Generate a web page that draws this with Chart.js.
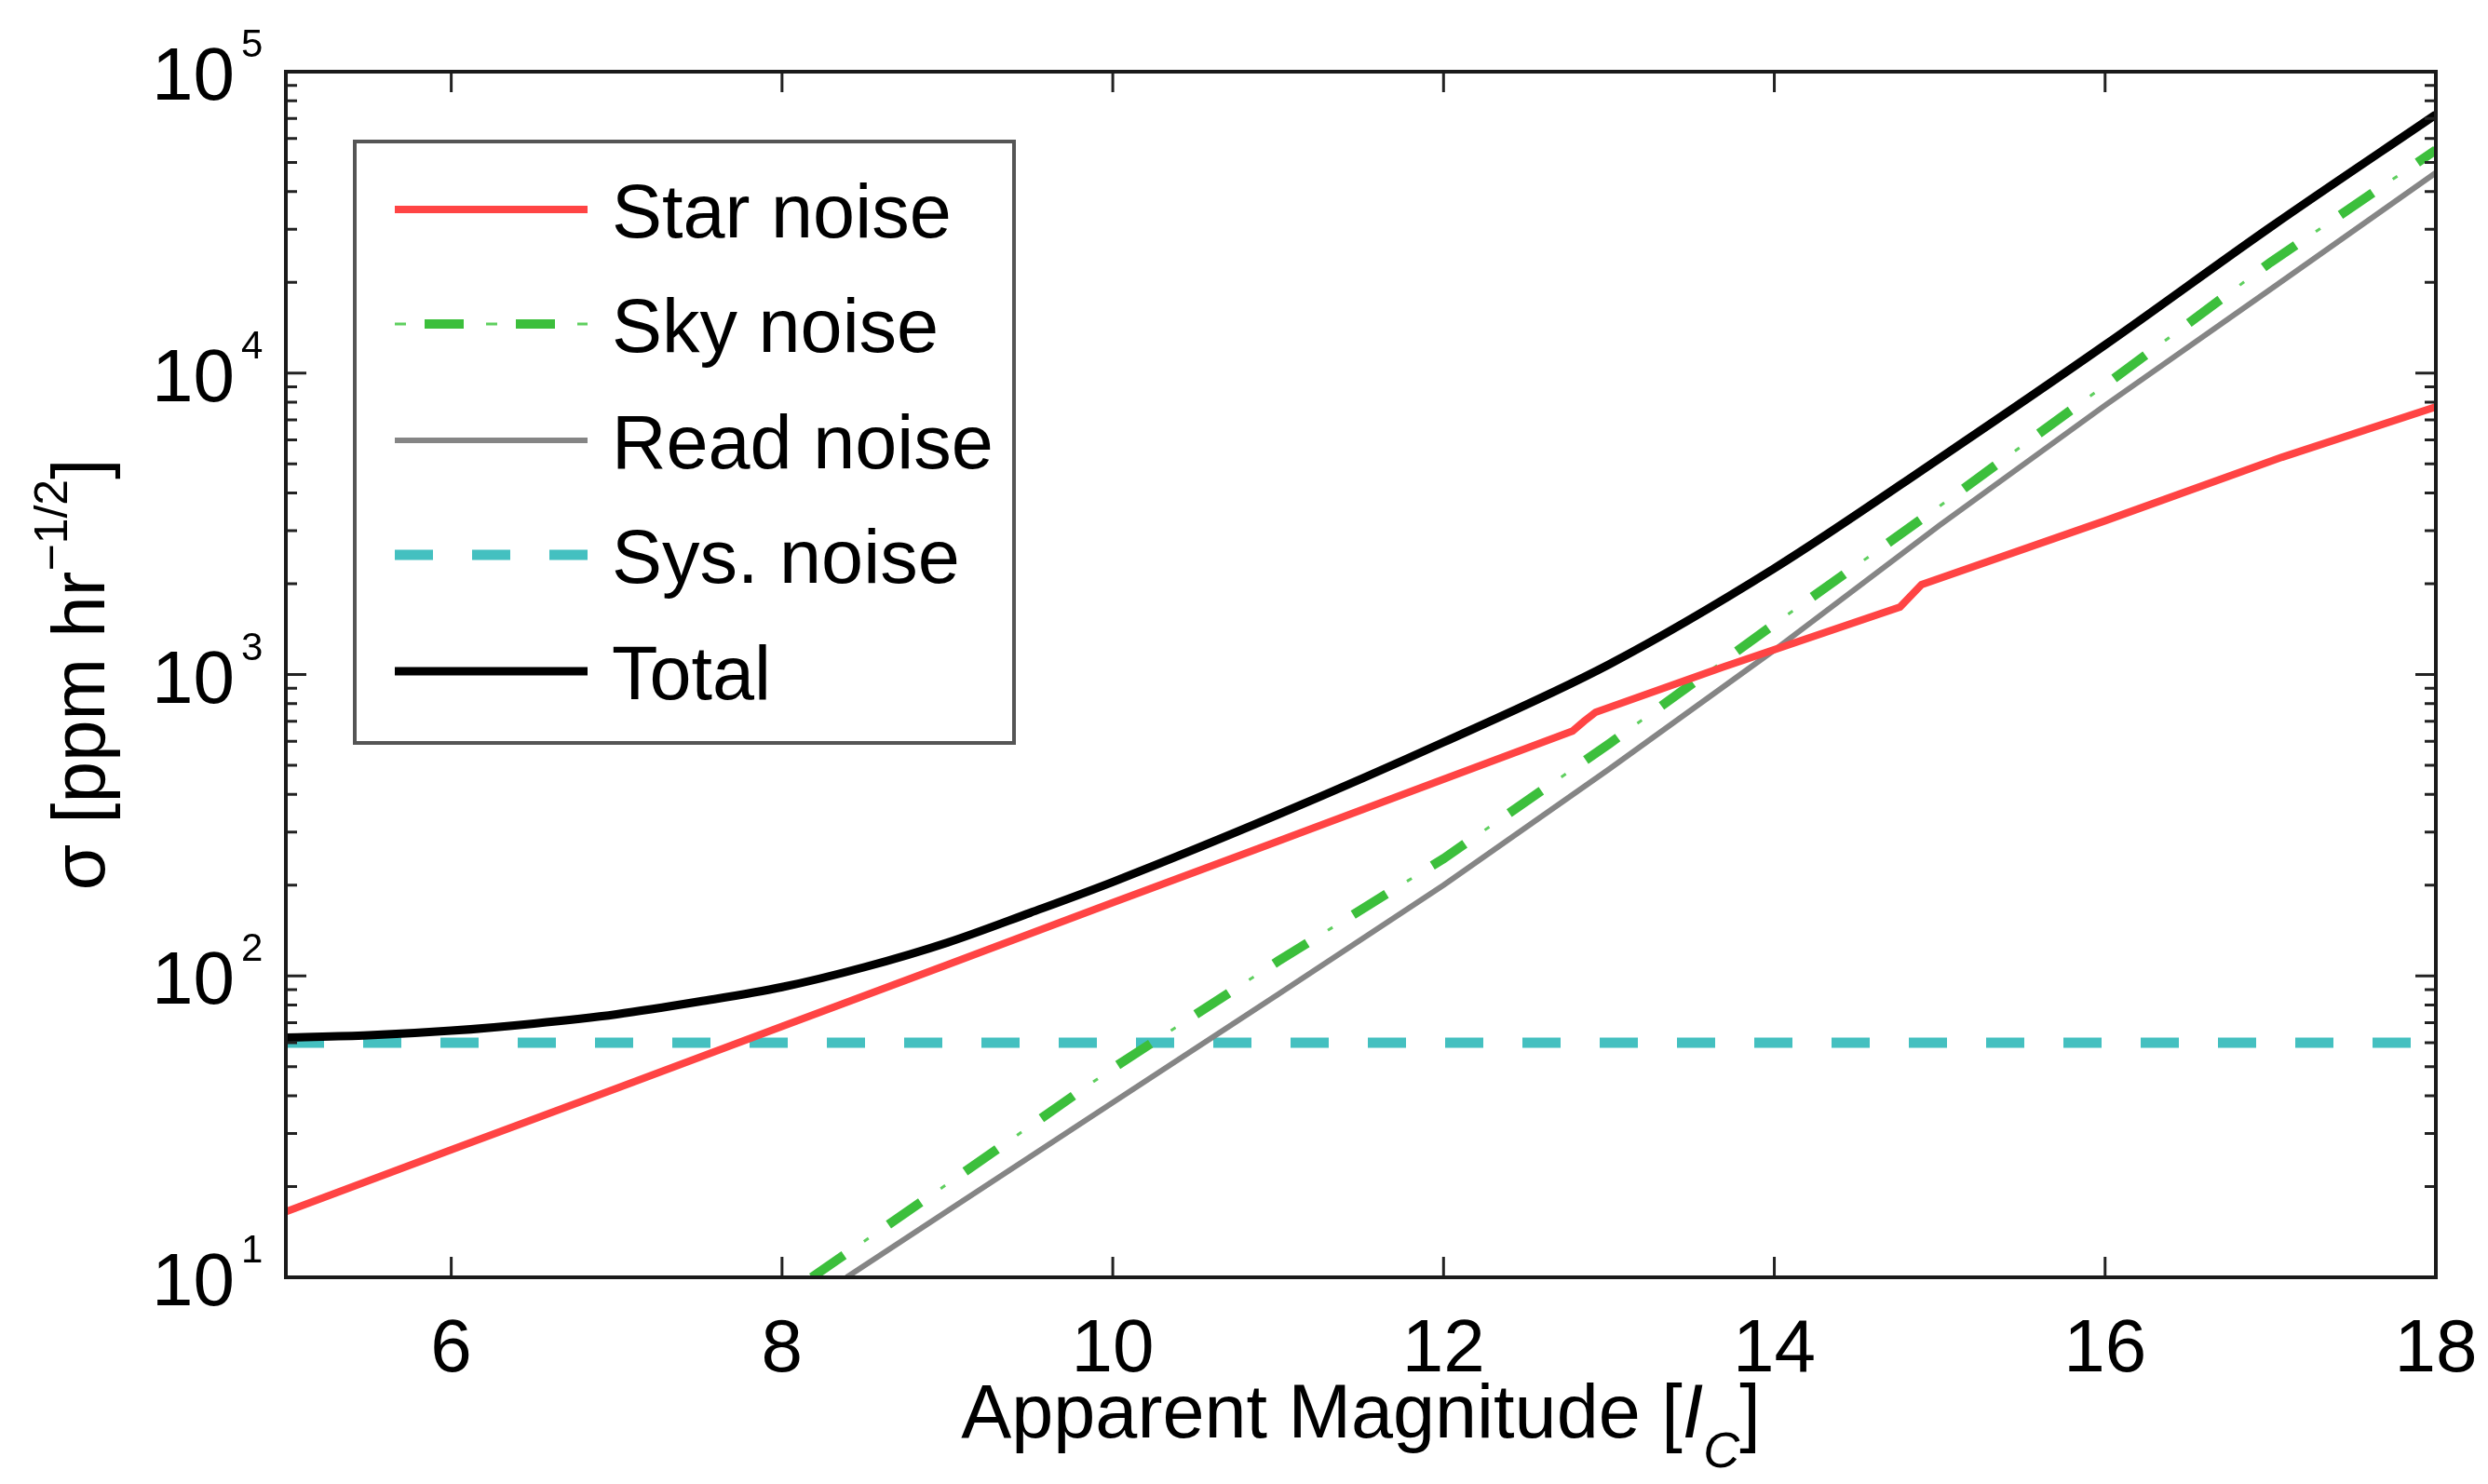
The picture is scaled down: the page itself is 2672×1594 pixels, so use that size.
<!DOCTYPE html>
<html>
<head>
<meta charset="utf-8">
<title>Noise budget vs. apparent magnitude</title>
<script src="https://cdn.jsdelivr.net/npm/chart.js@4.4.1/dist/chart.umd.min.js"></script>
<style>
  html, body { margin: 0; padding: 0; background: #fff; }
  #wrap { width: 2672px; height: 1594px; }
</style>
</head>
<body>
<div id="wrap"><canvas id="noiseChart"></canvas></div>
<script>
const FONT = "'Liberation Sans', Arial, Helvetica, sans-serif";

// sigma in ppm hr^-1/2 against I_C magnitude, one pair of arrays per noise term
const starMag   = [5, 6, 7, 8, 9, 10, 11, 12, 12.78, 12.85, 12.92, 13.69, 14.76, 14.89, 16, 17.07, 18];
const starNoise = [16.5, 26.5, 42.4, 68, 109, 175, 280, 449, 649, 700, 750, 1059, 1675, 1986, 3236, 5260, 7730];

const skyMag   = [8.18, 9, 10, 11, 12, 13, 14, 15, 16, 17, 18];
const skyNoise = [10, 20.4, 49.4, 112, 245, 588, 1470, 3620, 9120, 23300, 55000];

const readMag   = [8.39, 9, 10, 11, 12, 13, 14, 15, 16, 17, 18];
const readNoise = [10, 16.6, 38, 86.9, 200, 485, 1205, 3130, 7820, 18970, 46200];

const sysMag   = [5, 18];
const sysNoise = [60, 60];

const totalMag   = [5, 5.5, 6, 6.5, 7, 7.5, 8, 8.5, 9, 9.5, 10, 11, 12, 13, 14, 15, 16, 17, 18];
const totalNoise = [62.4, 63.5, 65.8, 69.5, 74.6, 82.2, 91.8, 107, 129, 162, 205, 343, 596, 1080, 2250, 5220, 12400, 30500, 72100];

const xTicks = [6, 8, 10, 12, 14, 16, 18];
const yTicks = [10, 100, 1000, 10000, 100000];

function pts(xs, ys) {
    return xs.map((x, i) => ({ x: x, y: ys[i] }));
}

const lineBase = { pointRadius: 0, fill: false, tension: 0, clip: 0, borderCapStyle: 'butt' };

const datasets = [
    Object.assign({}, lineBase, { label: 'Star noise', data: pts(starMag, starNoise),
        borderColor: '#ff4444', borderWidth: 8, order: 1 }),
    Object.assign({}, lineBase, { label: 'Sky noise', data: pts(skyMag, skyNoise),
        borderColor: '#3cbf3c', borderWidth: 10, borderDash: [42, 58], order: 2 }),
    // thin dot of the dash-dot pattern, sits in the gaps of the line above
    Object.assign({}, lineBase, { label: 'Sky noise dots', data: pts(skyMag, skyNoise), noLegend: true,
        borderColor: '#5fcf5f', borderWidth: 3, borderDash: [6, 94], borderDashOffset: 32, order: 2 }),
    Object.assign({}, lineBase, { label: 'Read noise', data: pts(readMag, readNoise),
        borderColor: '#858585', borderWidth: 6, order: 3 }),
    Object.assign({}, lineBase, { label: 'Sys. noise', data: pts(sysMag, sysNoise),
        borderColor: '#44c0c0', borderWidth: 11, borderDash: [41, 42], order: 4 }),
    Object.assign({}, lineBase, { label: 'Total', data: pts(totalMag, totalNoise),
        borderColor: '#000000', borderWidth: 9, cubicInterpolationMode: 'monotone', order: 0 })
];

// axes box, inward ticks, labels with exponents and the boxed legend
const framePlugin = {
    id: 'frame',
    afterDraw(chart) {
        const { ctx, chartArea: a, scales } = chart;
        const x = scales.x, y = scales.y;
        ctx.save();

        ctx.strokeStyle = '#222';
        ctx.lineWidth = 3;
        ctx.beginPath();
        xTicks.forEach(v => {
            const px = x.getPixelForValue(v);
            ctx.moveTo(px, a.bottom); ctx.lineTo(px, a.bottom - 22);
            ctx.moveTo(px, a.top); ctx.lineTo(px, a.top + 22);
        });
        for (let d = 10; d < 100000; d *= 10) {
            for (let k = 1; k <= 9; k++) {
                const py = y.getPixelForValue(d * k);
                const len = k === 1 ? 22 : 12;
                ctx.moveTo(a.left, py); ctx.lineTo(a.left + len, py);
                ctx.moveTo(a.right, py); ctx.lineTo(a.right - len, py);
            }
        }
        ctx.stroke();

        ctx.lineWidth = 4;
        ctx.strokeStyle = '#1a1a1a';
        ctx.strokeRect(a.left, a.top, a.right - a.left, a.bottom - a.top);

        ctx.fillStyle = '#000';
        ctx.textBaseline = 'alphabetic';

        // x tick labels
        ctx.font = '80px ' + FONT;
        ctx.textAlign = 'center';
        xTicks.forEach(v => ctx.fillText(String(v), x.getPixelForValue(v), a.bottom + 101));

        // y tick labels 10^n
        yTicks.forEach(v => {
            const py = y.getPixelForValue(v);
            ctx.font = '80px ' + FONT;
            ctx.textAlign = 'right';
            ctx.fillText('10', 252, py + 30);
            ctx.font = '42px ' + FONT;
            ctx.textAlign = 'left';
            ctx.fillText(String(Math.round(Math.log10(v))), 259, py - 16);
        });

        // x title: Apparent Magnitude [I_C]
        const parts = [
            { t: 'Apparent Magnitude [', f: '81px ' + FONT, dy: 0 },
            { t: 'I', f: 'italic 81px ' + FONT, dy: 0 },
            { t: 'C', f: 'italic 54px ' + FONT, dy: 32 },
            { t: ']', f: '81px ' + FONT, dy: 0 }
        ];
        drawParts(ctx, parts, (a.left + a.right) / 2, 1544);

        // y title: sigma [ppm hr^-1/2], rotated
        ctx.save();
        ctx.translate(112, (a.top + a.bottom) / 2);
        ctx.rotate(-Math.PI / 2);
        drawParts(ctx, [
            { t: '\u03c3 [ppm hr', f: '80px ' + FONT, dy: 0 },
            { t: '\u22121/2', f: '50px ' + FONT, dy: -40 },
            { t: ']', f: '80px ' + FONT, dy: 0 }
        ], 0, 0);
        ctx.restore();

        drawLegend(ctx, chart);
        ctx.restore();
    }
};

function drawParts(ctx, parts, cx, baseY) {
    let total = 0;
    parts.forEach(p => { ctx.font = p.f; p.w = ctx.measureText(p.t).width; total += p.w; });
    let px = cx - total / 2;
    ctx.textAlign = 'left';
    parts.forEach(p => {
        ctx.font = p.f;
        ctx.fillText(p.t, px, baseY + p.dy);
        px += p.w;
    });
}

function drawLegend(ctx, chart) {
    const box = { l: 381, t: 152, r: 1089, b: 798 };
    ctx.fillStyle = '#fff';
    ctx.fillRect(box.l, box.t, box.r - box.l, box.b - box.t);
    ctx.strokeStyle = '#555';
    ctx.lineWidth = 4;
    ctx.strokeRect(box.l, box.t, box.r - box.l, box.b - box.t);

    const rowsY = [225, 348, 473, 596, 721];
    const x0 = 424, x1 = 631;
    const items = chart.data.datasets.filter(ds => !ds.noLegend);
    items.forEach((ds, i) => {
        const yy = rowsY[i];
        ctx.strokeStyle = ds.borderColor;
        ctx.lineWidth = ds.borderWidth;
        ctx.lineCap = 'butt';
        if (ds.label === 'Sky noise') {
            ctx.setLineDash([42, 56]);
            ctx.lineDashOffset = 66;
            line(ctx, x0, x1, yy);
            ctx.strokeStyle = '#5fcf5f';
            ctx.lineWidth = 3;
            ctx.setLineDash([12, 86]);
            ctx.lineDashOffset = 0;
            line(ctx, x0, x1, yy);
        } else if (ds.borderDash) {
            ctx.setLineDash(ds.borderDash);
            ctx.lineDashOffset = 0;
            line(ctx, x0, x1, yy);
        } else {
            ctx.setLineDash([]);
            line(ctx, x0, x1, yy);
        }
        ctx.setLineDash([]);
        ctx.fillStyle = '#000';
        ctx.font = '81px ' + FONT;
        ctx.textAlign = 'left';
        ctx.fillText(ds.label, 657, yy + 30);
    });
}

function line(ctx, x0, x1, yy) {
    ctx.beginPath();
    ctx.moveTo(x0, yy);
    ctx.lineTo(x1, yy);
    ctx.stroke();
}

const hiddenAxis = {
    grid: { display: false, drawTicks: false },
    border: { display: false },
    ticks: { display: false },
    title: { display: false }
};

const ctx = document.getElementById('noiseChart').getContext('2d');
const noiseChart = new Chart(ctx, {
    type: 'line',
    data: { datasets: datasets },
    options: {
        responsive: true,
        maintainAspectRatio: false,
        animation: false,
        devicePixelRatio: 1,
        layout: { padding: { left: 307, top: 77, right: 56, bottom: 222 } },
        plugins: { legend: { display: false }, tooltip: { enabled: false } },
        scales: {
            x: Object.assign({ type: 'linear', min: 5, max: 18 }, hiddenAxis),
            y: Object.assign({ type: 'logarithmic', min: 10, max: 100000 }, hiddenAxis)
        }
    },
    plugins: [framePlugin]
});
</script>
</body>
</html>
